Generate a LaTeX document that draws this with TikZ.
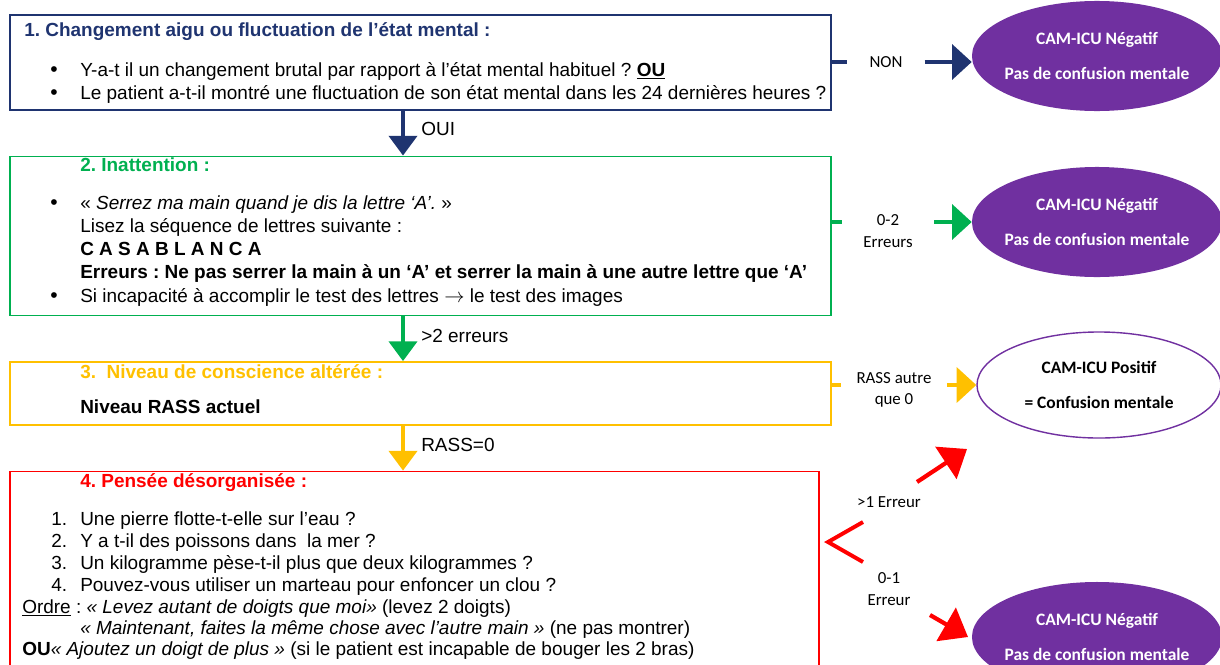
\documentclass[tikz,border=0pt]{standalone}
\usepackage{fontspec}
\setmainfont{Liberation Sans}
\newfontfamily\calibfont{Carlito}
\usepackage{xcolor}
\usetikzlibrary{arrows.meta, positioning, shapes.geometric}
\frenchspacing

\definecolor{critnavy}{HTML}{1F3470}
\definecolor{critgreen}{HTML}{00B050}
\definecolor{critamber}{HTML}{FFC000}
\definecolor{critred}{HTML}{FF0000}
\definecolor{camviolet}{HTML}{7030A0}

\newcommand{\bodysize}{\fontsize{13.5}{16}\selectfont}

\begin{document}
\begin{tikzpicture}[
    x=0.025cm, y=-0.025cm,
    node distance=1.12cm,
    crit/.style={
        draw,
        rectangle,
        line width=1.2pt,
        anchor=north west,
        minimum width=20.525cm,
        inner sep=0pt
    },
    txt/.style={anchor=base west, inner sep=0pt, font=\bodysize},
    bul/.style={anchor=base, inner sep=0pt, font=\fontsize{15}{16}\selectfont},
    heading/.style={txt, font=\bodysize\bfseries},
    camres/.style={
        ellipse,
        minimum width=6.25cm,
        minimum height=2.75cm,
        inner xsep=-0.5cm,
        inner ysep=0pt,
        align=center,
        font=\calibfont\bfseries\fontsize{12.4}{25}\selectfont
    },
    camneg/.style={camres, fill=camviolet, text=white},
    campos/.style={camres, draw=camviolet, line width=1pt, minimum width=6.1cm, minimum height=2.65cm},
    branch/.style={align=center, inner ysep=0pt, font=\calibfont\fontsize{12}{15.3}\selectfont},
    downarrow/.style={line width=2.5pt, -{Triangle[width=20pt, length=14pt]}},
    sidearrow/.style={line width=2.5pt, -{Triangle[width=25pt, length=14pt]}},
    stub/.style={line width=2.5pt},
    forkline/.style={line width=2.8pt, critred, line join=miter},
    redarrow/.style={line width=3pt, critred, -{Triangle[width=27pt, length=18pt]}}
]
\useasboundingbox (0,0) rectangle (1220,664);
\clip (0,0) rectangle (1220,664);

% ===== Criteria boxes =====
\node[crit, draw=critnavy, minimum height=2.375cm] (crit1) at (9,14) {};
\node[crit, draw=critgreen, minimum height=3.975cm, below=of crit1] (crit2) {};
\node[crit, draw=critamber, minimum height=1.575cm, below=of crit2] (crit3) {};
\node[crit, draw=critred, minimum width=20.225cm, minimum height=5.6cm,
      below=1.12cm of crit3.south west, anchor=north west] (crit4) {};

% ===== Box 1 =====
\node[heading, text=critnavy] (head1) at (24,36) {1. Changement aigu ou fluctuation de l’état mental :};
\node[bul] (bul11) at (54,76) {•};
\node[txt] (line11) at (80,76) {Y-a-t il un changement brutal par rapport à l’état mental habituel ? \textbf{\underline{OU}}};
\node[bul] (bul12) at (54,99) {•};
\node[txt] (line12) at (80,99) {Le patient a-t-il montré une fluctuation de son état mental dans les 24 dernières heures ?};

% ===== Box 2 =====
\node[heading, text=critgreen] (head2) at (80,171) {2. Inattention :};
\node[bul] (bul21) at (54,209) {•};
\node[txt] (line21) at (80,209) {« \textit{Serrez ma main quand je dis la lettre ‘A’.} »};
\node[txt] (line22) at (80,232) {Lisez la séquence de lettres suivante :};
\node[txt] (line23) at (80,255) {\textbf{C A S A B L A N C A}};
\node[txt] (line24) at (80,278) {\textbf{Erreurs : Ne pas serrer la main à un ‘A’ et serrer la main à une autre lettre que ‘A’}};
\node[bul] (bul25) at (54,302) {•};
\node[txt] (line25) at (80,302) {Si incapacité à accomplir le test des lettres $\rightarrow$ le test des images};

% ===== Box 3 =====
\node[heading, text=critamber] (head3) at (80,378) {3.\ \ Niveau de conscience altérée :};
\node[txt] (line31) at (80,413) {\textbf{Niveau RASS actuel}};

% ===== Box 4 =====
\node[heading, text=critred] (head4) at (80,487) {4. Pensée désorganisée :};
\node[txt] (num41) at (51,525) {1.};
\node[txt] (line41) at (80,525) {Une pierre flotte-t-elle sur l’eau ?};
\node[txt] (num42) at (51,547) {2.};
\node[txt] (line42) at (80,547) {Y a t-il des poissons dans\ \ la mer ?};
\node[txt] (num43) at (51,569) {3.};
\node[txt] (line43) at (80,569) {Un kilogramme pèse-t-il plus que deux kilogrammes ?};
\node[txt] (num44) at (51,591) {4.};
\node[txt] (line44) at (80,591) {Pouvez-vous utiliser un marteau pour enfoncer un clou ?};
\node[txt] (line45) at (22,613) {\underline{Ordre} : \textit{« Levez autant de doigts que moi»} (levez 2 doigts)};
\node[txt] (line46) at (80,634) {\textit{« Maintenant, faites la même chose avec l’autre main »} (ne pas montrer)};
\node[txt] (line47) at (22,655) {\textbf{OU}\textit{« Ajoutez un doigt de plus »} (si le patient est incapable de bouger les 2 bras)};

% ===== Results =====
\node[camneg] (neg1) at (1097,56) {CAM-ICU Négatif\\Pas de confusion mentale};
\node[camneg] (neg2) at (1097,222) {CAM-ICU Négatif\\Pas de confusion mentale};
\node[campos] (pos3) at (1099,385) {CAM-ICU Positif\\= Confusion mentale};
\node[camneg] (neg4) at (1097,637) {CAM-ICU Négatif\\Pas de confusion mentale};

% ===== Down arrows =====
\coordinate (spine) at (403,0);
\draw[downarrow, critnavy] (crit1.south -| spine) -- (crit2.north -| spine);
\draw[downarrow, critgreen] (crit2.south -| spine) -- (crit3.north -| spine);
\draw[downarrow, critamber] (crit3.south -| spine) -- (crit4.north -| spine);
\node[txt] (oui) at (421,135) {OUI};
\node[txt] (err12) at (421,342) {>2 erreurs};
\node[txt] (rass0) at (421,451) {RASS=0};

% ===== Side branches =====
\node[branch, inner xsep=15.6pt] (non) at (886,62) {NON};
\draw[stub, critnavy] (crit1.east |- non) -- (non.west);
\draw[sidearrow, critnavy] (non.east) -- (non.east -| neg1.west);

\node[branch, inner xsep=15pt] (err02) at (888,231) {0-2\\Erreurs};
\draw[stub, critgreen] (crit2.east |- neg2) -- (err02.west |- neg2);
\draw[sidearrow, critgreen] (err02.east |- neg2) -- (neg2.west);

\node[branch, inner xsep=10.7pt] (rassx) at (894,390) {RASS autre\\que 0};
\draw[stub, critamber] (crit3.east |- pos3) -- (rassx.west |- pos3);
\draw[sidearrow, critamber] (rassx.east |- pos3) -- (pos3.west);

% ===== Box 4 fork =====
\coordinate (forkv) at (828,542);
\coordinate (forkt) at (863,522);
\coordinate (forkb) at (863,562);
\draw[forkline] (forkt) -- (forkv) -- (forkb);
\node[branch] (err1p) at (889,502) {>1 Erreur};
\node[branch] (err01) at (889,589) {0-1\\Erreur};
\coordinate (up0) at (917,482);
\coordinate (up1) at (967,449);
\draw[redarrow] (up0) -- (up1);
\coordinate (dn0) at (930,615);
\coordinate (dn1) at (968,637);
\draw[redarrow] (dn0) -- (dn1);

\end{tikzpicture}
\end{document}
